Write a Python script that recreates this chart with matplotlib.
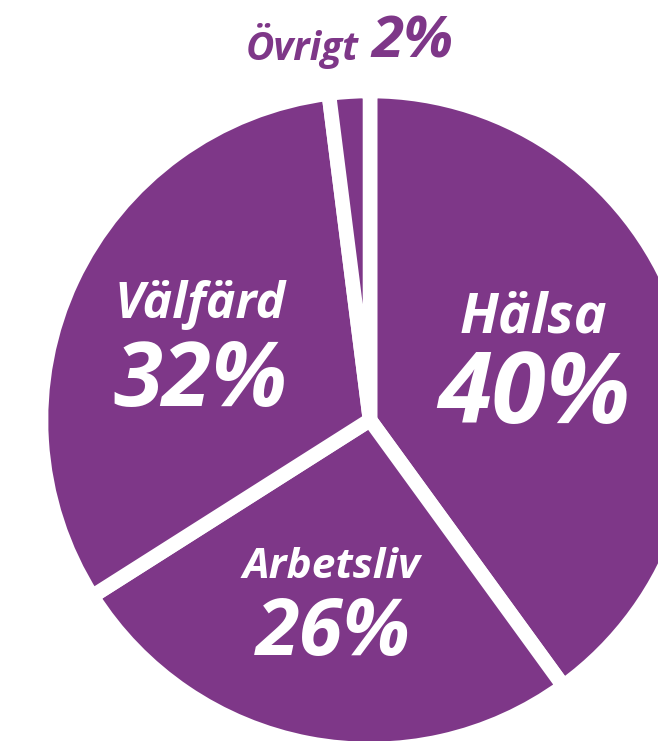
import matplotlib
matplotlib.use("Agg")
import matplotlib.pyplot as plt

categories = ["Hälsa", "Arbetsliv", "Välfärd", "Övrigt"]
shares = [40, 26, 32, 2]
labels_pct = ["40%", "26%", "32%", "2%"]

purple = "#7E3788"
W, H = 658, 741
fig = plt.figure(figsize=(W / 100, H / 100), dpi=100)
ax = fig.add_axes([0, 0, 1, 1])

cx, cy = 370, H - 420
ax.pie(shares, startangle=90, counterclock=False, center=(cx, cy), radius=329,
       colors=[purple] * 4,
       wedgeprops=dict(edgecolor="white", linewidth=10.5, joinstyle="miter"))
ax.set_xlim(0, W)
ax.set_ylim(0, H)
ax.set_aspect("equal")
ax.axis("off")

fam = ["Open Sans", "DejaVu Sans"]
kw = dict(color="white", fontweight="bold", fontstyle="italic", family=fam,
          ha="center", va="center")

def px(y):
    return H - y

ax.text(533, px(318), categories[0], fontsize=40, **kw)
ax.text(534, px(398), labels_pct[0], fontsize=71, **kw)
ax.text(200, px(305), categories[2], fontsize=36, **kw)
ax.text(200, px(383), labels_pct[2], fontsize=64, **kw)
ax.text(331, px(568), categories[1], fontsize=30.5, **kw)
ax.text(333, px(635), labels_pct[1], fontsize=57, **kw)

kw2 = dict(kw)
kw2["color"] = purple
ax.text(302, px(46), categories[3], fontsize=28, **kw2)
ax.text(412, px(43), labels_pct[3], fontsize=42, **kw2)

fig.savefig("out.png", dpi=100)
